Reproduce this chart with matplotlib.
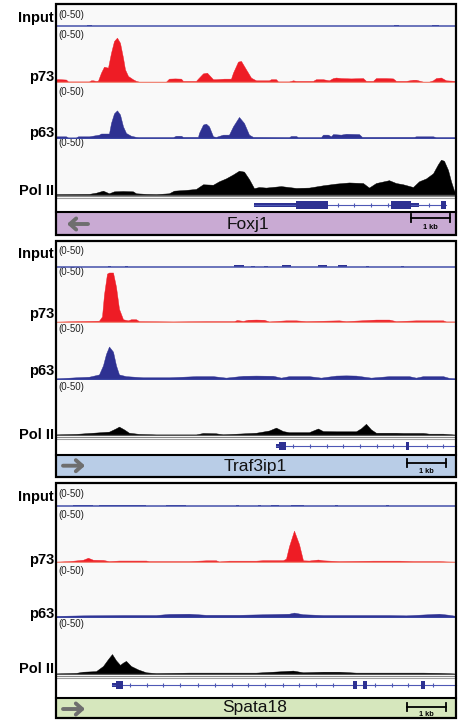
import matplotlib
matplotlib.use('Agg')
import matplotlib.pyplot as plt
from matplotlib.patches import Rectangle

# ---------------- DATA (x: 0..400 across locus, y: signal 0..50) ----------------
track_names = ["Input", "p73", "p63", "Pol II"]
scale_label = "(0-50)"
gene_names = ["Foxj1", "Traf3ip1", "Spata18"]
gene_directions = ["left", "right", "right"]

# Input tracks as short bumps (start, end, height)
foxj1_in_start = [31, 338, 376]
foxj1_in_end = [36, 343, 383]
foxj1_in_h = [3, 2.5, 3]
traf_in_start = [52, 69, 178, 195, 208, 226, 262, 282, 310, 345]
traf_in_end = [55, 72, 188, 199, 212, 235, 271, 291, 313, 348]
traf_in_h = [2.5, 2.5, 3, 2.5, 2.5, 3, 3, 3, 2, 2]
spata_in_start = [17, 43, 110, 180, 202, 215, 235, 279, 330]
spata_in_end = [37, 90, 130, 183, 205, 223, 248, 282, 333]
spata_in_h = [1.5, 1.5, 2, 2, 2, 2.5, 2.5, 1.5, 2]

foxj1_p73_x = [0, 2, 10, 12, 33, 35, 37, 40, 42, 45,
               48, 52, 55, 58, 61, 64, 67, 69, 72, 77,
               80, 83, 110, 113, 119, 125, 127, 140, 142, 147,
               151, 154, 157, 160, 168, 175, 177, 182, 185, 190,
               195, 200, 213, 215, 220, 222, 233, 237, 240, 257,
               260, 267, 273, 277, 280, 285, 295, 307, 310, 317,
               320, 330, 337, 340, 350, 357, 360, 367, 373, 377,
               380, 385, 390, 400]
foxj1_p73_y = [2.4, 2.6, 2.2, 0.5, 0.5, 1.5, 1.5, 1.0, 1.2, 8.3,
               13.7, 12.8, 26, 36.6, 39.6, 35, 21.7, 11.3, 5.4, 2.4,
               1.0, 0.3, 0.3, 3.0, 3.2, 3.0, 1.0, 1.0, 3.0, 7.7,
               8.3, 5.4, 2.5, 2.5, 3.0, 3.0, 8.3, 18.2, 18.8, 11.3,
               3.9, 1.5, 1.5, 2.5, 2.5, 0.5, 0.5, 1.5, 1.0, 1.0,
               2.5, 2.5, 1.5, 3.5, 4.0, 3.5, 3.2, 3.5, 1.0, 1.0,
               3.5, 3.5, 3.2, 1.0, 1.0, 2.0, 2.0, 0.3, 0.3, 1.5,
               3.5, 4.0, 1.5, 1.0]

foxj1_p63_x = [0, 10, 12, 20, 22, 33, 43, 45, 53, 55,
               58, 61, 64, 67, 70, 75, 80, 83, 117, 120,
               125, 127, 142, 143, 147, 150, 153, 157, 160, 167,
               173, 177, 183, 188, 193, 197, 233, 235, 240, 242,
               265, 267, 272, 275, 277, 285, 290, 303, 306, 358,
               360, 377, 380, 400]
foxj1_p63_y = [1.5, 1.5, 0.5, 0.5, 1.5, 1.5, 3.0, 4.0, 4.0, 13.4,
               22, 24.7, 21, 10.4, 4.5, 2.0, 1.0, 0.8, 0.8, 2.0,
               2.0, 1.0, 1.0, 4.5, 12, 12.8, 10.4, 1.5, 1.0, 3.0,
               3.0, 10.4, 18.8, 13.4, 3.0, 1.0, 0.8, 1.8, 1.8, 0.8,
               0.8, 3.0, 3.0, 1.5, 3.5, 3.0, 3.8, 3.5, 1.0, 1.0,
               1.5, 1.5, 0.8, 0.8]

foxj1_pol_x = [0, 33, 40, 47, 53, 58, 67, 77, 80, 90,
               100, 113, 118, 130, 140, 147, 157, 163, 170, 177,
               183, 188, 193, 198, 203, 210, 225, 240, 253, 267,
               280, 293, 307, 313, 320, 333, 340, 347, 357, 363,
               370, 377, 382, 385, 388, 392, 395, 398, 400]
foxj1_pol_y = [0.8, 1.0, 2.0, 3.8, 1.5, 3.2, 3.5, 3.2, 1.5, 1.0,
               0.8, 1.5, 3.8, 4.5, 5.3, 9.4, 9.0, 12, 14.6, 18,
               21.3, 20.5, 14, 6, 7, 6.5, 7.8, 6.2, 6.5, 8.5,
               10, 11, 10.5, 6.5, 10.5, 13, 10.5, 9.4, 7, 12,
               14.5, 19, 27, 31, 30, 22, 12, 4, 2]

traf_p73_x = [0, 20, 43, 46, 48, 51, 53, 57, 60, 63,
              67, 72, 75, 80, 83, 117, 150, 178, 181, 187,
              192, 200, 208, 213, 230, 240, 250, 283, 290, 320,
              333, 340, 360, 387, 390, 400]
traf_p73_y = [0.3, 0.8, 1.2, 5, 25, 44, 45, 45, 32, 12,
              2.5, 1.5, 2.5, 2.5, 0.8, 0.5, 0.8, 0.8, 1.8, 1.0,
              2.0, 2.2, 2.0, 0.5, 1.5, 1.5, 0.8, 1.5, 0.8, 2.2,
              2.2, 0.8, 1.5, 1.5, 0.5, 0.5]

traf_p63_x = [0, 20, 33, 43, 47, 50, 53, 57, 60, 63,
              70, 87, 113, 140, 157, 170, 187, 200, 217, 225,
              233, 253, 265, 280, 290, 300, 315, 333, 353, 360,
              367, 387, 393, 400]
traf_p63_y = [0.5, 1.5, 2.0, 4.0, 12, 22, 28.5, 24, 12, 4,
              2.5, 1.5, 1.5, 2.5, 2.5, 1.2, 2.8, 3.0, 2.8, 1.2,
              2.5, 2.5, 1.2, 3.0, 3.2, 3.0, 1.2, 2.5, 2.5, 1.2,
              2.5, 2.5, 1.0, 0.5]

traf_pol_x = [0, 20, 40, 53, 60, 63, 68, 73, 83, 100,
              140, 147, 160, 167, 200, 213, 220, 227, 233, 253,
              257, 262, 267, 280, 300, 305, 310, 315, 320, 340,
              347, 367, 373, 387, 397, 400]
traf_pol_y = [0.5, 1.0, 2.2, 3.0, 6.0, 7.5, 5.0, 2.0, 1.0, 0.5,
              0.5, 1.8, 1.5, 0.6, 2.0, 4.0, 6.6, 3.5, 2.5, 2.5,
              4.0, 5.8, 3.5, 3.3, 3.3, 6.0, 10, 5.0, 2.0, 2.0,
              1.8, 1.8, 1.2, 1.2, 0.5, 0.3]

spata_p73_x = [0, 13, 27, 32, 37, 47, 53, 63, 90, 93,
               133, 150, 160, 163, 173, 200, 207, 227, 230, 233,
               238, 243, 247, 253, 262, 267, 283, 317, 343, 357,
               383, 390, 400]
spata_p73_y = [0.3, 0.8, 2.0, 3.8, 2.0, 1.8, 0.8, 1.3, 1.3, 0.8,
               0.8, 1.5, 1.5, 0.5, 1.2, 1.2, 1.6, 1.6, 3.0, 14,
               28, 16, 1.5, 1.3, 2.2, 1.5, 0.8, 1.2, 1.2, 0.8,
               0.8, 0.5, 0.3]

spata_p63_x = [0, 27, 67, 100, 113, 133, 150, 183, 233, 238,
               247, 267, 333, 350, 383, 393, 400]
spata_p63_y = [1.0, 1.5, 1.8, 1.8, 2.8, 3.0, 2.0, 2.0, 3.0, 4.0,
               2.5, 1.8, 1.8, 1.5, 3.0, 2.0, 1.0]

spata_pol_x = [0, 20, 27, 40, 47, 52, 56, 60, 64, 67,
               70, 75, 82, 90, 100, 133, 200, 227, 237, 247,
               267, 283, 300, 367, 383, 397, 400]
spata_pol_y = [0.5, 1.0, 2.0, 2.5, 7, 13, 17.5, 12, 8, 10,
               11.5, 7, 4, 1.5, 0.8, 1.2, 1.2, 2.5, 3.0, 1.5,
               2.0, 2.0, 1.2, 1.2, 1.0, 0.5, 0.3]

# Gene models (x in locus units)
foxj1_thin = [(198, 240), (355, 363)]
foxj1_thick = [(240, 272), (335, 355), (385, 390)]
foxj1_line = (198, 390)
foxj1_ticks = [257, 282, 298, 315, 332, 353, 373]
traf_thin = [(220, 223)]
traf_thick = [(223, 230), (350, 353)]
traf_line = (220, 400)
traf_ticks = [237, 254, 271, 287, 304, 321, 337, 371, 387]
spata_thin = [(56, 60)]
spata_thick = [(60, 67), (297, 301), (307, 311), (365, 369)]
spata_line = (56, 400)
spata_ticks = [74, 91, 107, 124, 142, 159, 176, 192, 209, 227, 243, 260, 277, 319, 336, 352, 377]

# ---------------- LAYOUT ----------------
W, H = 458, 721
plt.rcParams['font.family'] = ['Liberation Sans', 'DejaVu Sans']
RED = '#ee1c25'
BLUE = '#2e3192'
BLACK = '#000000'
bar_colors = ['#c9aad3', '#b9cde7', '#d6e7bd']

panels = [
    dict(top=4, bases=[26, 82, 138, 195], sep=197, gene_y=205, bar=(212, 235),
         lab_y=[22, 81, 137, 195], scl_y=[15, 35, 92, 143.5],
         name_xy=(248, 224), arrow=(67, 88, 224), sbar=(411, 450, 218.3, 227.2)),
    dict(top=241, bases=[267, 322, 379, 435], sep=437.5, gene_y=446, bar=(455, 477),
         lab_y=[258, 318, 375, 439], scl_y=[250.5, 272, 329, 387.5],
         name_xy=(255, 466.5), arrow=(63, 85, 465.7), sbar=(407, 446, 463.3, 471.5)),
    dict(top=483, bases=[506, 562, 617, 674], sep=676.5, gene_y=685, bar=(698, 718),
         lab_y=[501, 564, 618, 673], scl_y=[494, 515, 570.5, 624],
         name_xy=(255, 707.5), arrow=(63, 85, 709), sbar=(407, 446, 706.7, 714.5)),
]
inputs = [(foxj1_in_start, foxj1_in_end, foxj1_in_h),
          (traf_in_start, traf_in_end, traf_in_h),
          (spata_in_start, spata_in_end, spata_in_h)]
signals = [[(foxj1_p73_x, foxj1_p73_y), (foxj1_p63_x, foxj1_p63_y), (foxj1_pol_x, foxj1_pol_y)],
           [(traf_p73_x, traf_p73_y), (traf_p63_x, traf_p63_y), (traf_pol_x, traf_pol_y)],
           [(spata_p73_x, spata_p73_y), (spata_p63_x, spata_p63_y), (spata_pol_x, spata_pol_y)]]
genes = [(foxj1_thin, foxj1_thick, foxj1_line, foxj1_ticks),
         (traf_thin, traf_thick, traf_line, traf_ticks),
         (spata_thin, spata_thick, spata_line, spata_ticks)]
sig_colors = [RED, BLUE, BLACK]
base_colors = ['#f08878', '#3b46a3', '#555555']

X0 = 56
fig = plt.figure(figsize=(W / 100, H / 100), dpi=100)
bg = fig.add_axes([0, 0, 1, 1], zorder=0)
bg.set_xlim(0, W); bg.set_ylim(H, 0); bg.axis('off')
ov = fig.add_axes([0, 0, 1, 1], zorder=10)
ov.set_xlim(0, W); ov.set_ylim(H, 0); ov.axis('off')


def track_ax(ytop, ybase):
    ax = fig.add_axes([57 / W, 1 - (ybase + 1) / H, (455 - 57) / W, (ybase + 1 - ytop) / H], zorder=2)
    ax.set_xlim(1, 399)
    upp = 50.0 / (ybase - ytop)
    ax.set_ylim(-upp, 50)
    ax.axis('off')
    return ax


for i, P in enumerate(panels):
    top = P['top']
    b0, b1 = P['bar']
    # backgrounds
    bg.add_patch(Rectangle((X0, top), 400, P['sep'] - top, fc='#f9f9f9', ec='none'))
    bg.add_patch(Rectangle((X0, P['sep']), 400, b0 - P['sep'], fc='white', ec='none'))
    bg.add_patch(Rectangle((X0, b0), 400, b1 - b0, fc=bar_colors[i], ec='none'))
    # separator between Pol II and gene track
    bg.plot([X0, X0 + 400], [P['sep'] - 1, P['sep'] - 1], color='#8a8a8a', lw=0.8)
    bg.plot([X0, X0 + 400], [P['sep'] + 1.2, P['sep'] + 1.2], color='#a0a0a0', lw=0.8)

    # Input track
    ytops = [top] + P['bases'][:-1]
    ax = track_ax(ytops[0], P['bases'][0])
    s, e, h = inputs[i]
    ax.bar(s, h, width=[ee - ss for ss, ee in zip(s, e)], align='edge', color=BLUE, lw=0)
    ax.axhline(0, color='#4450aa', lw=1.1)
    # signal tracks
    for k in range(3):
        ax = track_ax(ytops[k + 1], P['bases'][k + 1])
        xs, ys = signals[i][k]
        ax.fill_between(xs, 0, ys, color=sig_colors[k], lw=0.3, ec=sig_colors[k])
        ax.axhline(0, color=base_colors[k], lw=1.0)

    # labels
    for k, name in enumerate(track_names):
        bg.text(54, P['lab_y'][k], name, ha='right', va='baseline', fontsize=10.5, fontweight='bold')
        bg.text(58, P['scl_y'][k], scale_label, ha='left', va='center', fontsize=7, color='#222222')

    # gene model
    thin, thick, line, ticks = genes[i]
    gy = P['gene_y']
    bg.plot([X0 + line[0], X0 + line[1]], [gy, gy], color='#4e58b5', lw=0.8)
    bg.plot([X0 + t for t in ticks], [gy] * len(ticks), ls='none', marker='|', ms=2.5, mew=0.8, color='#4e58b5')
    for a, b in thin:
        bg.add_patch(Rectangle((X0 + a, gy - 2.3), b - a, 4.6, fc=BLUE, ec='none'))
    for a, b in thick:
        bg.add_patch(Rectangle((X0 + a, gy - 4), b - a, 8, fc=BLUE, ec='none', zorder=3))

    # label bar contents
    nx, ny = P['name_xy']
    bg.text(nx, ny, gene_names[i], ha='center', va='center', fontsize=12.5, color='#111111')
    ax0, ax1, ay = P['arrow']
    if gene_directions[i] == 'left':
        tail, head = ax1, ax0
    else:
        tail, head = ax0, ax1
    bg.annotate('', xy=(head, ay), xytext=(tail, ay),
                arrowprops=dict(arrowstyle='->, head_length=0.45, head_width=0.4',
                                lw=2.8, color='#6e6e6e', shrinkA=0, shrinkB=0))
    sx0, sx1, sy, ty = P['sbar']
    bg.plot([sx0, sx1], [sy, sy], color='black', lw=1.3)
    bg.plot([sx0, sx0], [sy - 4, sy + 4], color='black', lw=1.3)
    bg.plot([sx1, sx1], [sy - 4, sy + 4], color='black', lw=1.3)
    bg.text((sx0 + sx1) / 2, ty, '1 kb', ha='center', va='center', fontsize=5.3, fontweight='bold')

    # borders
    ov.add_patch(Rectangle((X0, top), 400, b1 - top, fill=False, ec='black', lw=1.6))
    ov.plot([X0, X0 + 400], [b0, b0], color='black', lw=1.5)

fig.savefig('out.png', dpi=100)
